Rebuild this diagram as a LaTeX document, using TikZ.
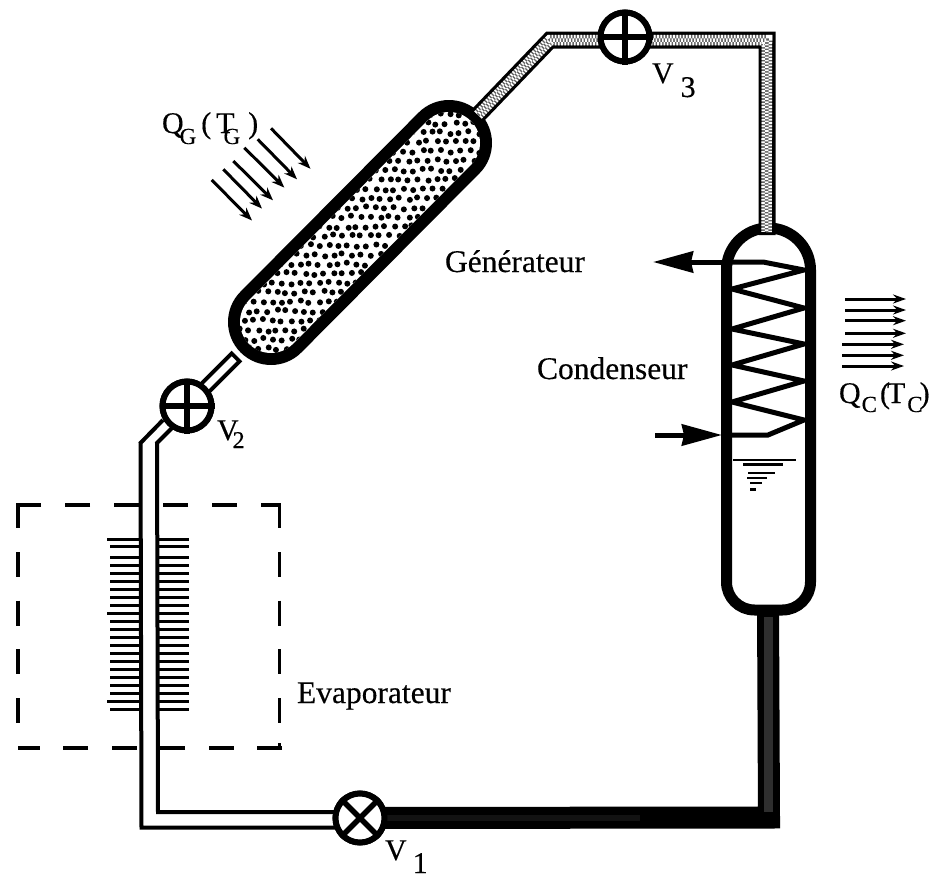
\documentclass[tikz,border=0pt]{standalone}
\usepackage{fontspec}
\setmainfont{Liberation Serif}[FakeBold=0.35]
\usetikzlibrary{arrows.meta,calc}
\tikzset{
  lab/.style={inner sep=0pt,outer sep=0pt,anchor=base west,font=\fontsize{31.5}{36}\selectfont},
  sym/.style={inner sep=0pt,outer sep=0pt,anchor=base west,font=\fontsize{30}{34}\selectfont},
  valve/.style={circle,draw=black,fill=white,line width=6pt,minimum size=49pt,inner sep=0pt},
  valvebar/.style={line width=5.5pt,line cap=butt},
  pipeblack/.style={line width=17pt,line join=miter,black},
  pipegray/.style={line width=10.5pt,line join=miter,black!62},
  pipedots/.style={line width=10.5pt,line join=miter,white,dash pattern=on 1.6pt off 1.6pt},
  pipecentre/.style={line width=3.5pt,line join=miter,black!62},
  pipecentredots/.style={line width=3.5pt,line join=miter,white,dash pattern=on 1.6pt off 1.6pt,dash phase=1.6pt},
  heavyblack/.style={line width=22pt,line join=miter,black},
  heavygray/.style={line width=9pt,line join=miter,black!82},
  heavyfaint/.style={line width=6pt,black!93},
  tubeline/.style={line width=4pt,line join=miter},
  fin/.style={line width=3pt},
  dashbox/.style={line width=3.5pt},
  coil/.style={line width=5pt,line join=miter},
  level/.style={line width=2.5pt},
  heatG/.style={line width=3pt,-{Stealth[length=13pt,width=10pt]}},
  heatC/.style={line width=3pt,-{Stealth[length=13pt,width=9pt]}},
  bigarrow/.style={line width=5pt,-{Stealth[length=40pt,width=21pt,inset=2pt]}}
}
\newcommand{\subG}[1]{\raisebox{-11pt}{\fontsize{23}{26}\selectfont #1}}
\begin{document}
\begin{tikzpicture}[x=1pt,y=-1pt]
\useasboundingbox (0,0) rectangle (938,878);
\fill[white] (0,0) rectangle (938,878);

% named points
\coordinate (genA) at (271,322);
\coordinate (genB) at (449,143);
\coordinate (kinkTop) at (550,40);
\coordinate (cornerTR) at (767,40);
\coordinate (condTop) at (767,235);
\coordinate (condBot) at (768,605);
\coordinate (cornerBR) at (769,817.5);
\coordinate (genOut) at (478,115);
\coordinate (genIn) at (237,356);

\node[valve] (v1) at (360,818) {};
\node[valve] (v2) at (187,406) {};
\node[valve] (v3) at (625,37) {};

% dashed evaporator box
\draw[dashbox,dash pattern=on 25pt off 24pt,dash phase=7pt] (279,505) -- (18,505);
\draw[dashbox,dash pattern=on 25pt off 23.7pt] (18,503.3) -- (18,725);
\draw[dashbox,dash pattern=on 25pt off 23.7pt] (279.5,503.3) -- (279.5,725);
\draw[dashbox,dash pattern=on 25pt off 23.5pt] (282,748) -- (18,748);
\draw[dashbox] (279.5,748) -- (279.5,743);

% fins
\foreach \y in {507,530,563,587,610,634,658,682,707,730,755,779,803,827,851,875,899,923,947,971,995,1018}{
  \draw[fin] (110,370+\y/3) -- (141,370+\y/3);
  \draw[fin] (157,370+\y/3) -- (189,370+\y/3);
}
\draw[fin] (107,539) -- (112,539);
\draw[fin] (107,613.3) -- (112,613.3);
\draw[fin] (107,701.7) -- (112,701.7);

% evaporator tube
\draw[tubeline] (163,420) -- (140.5,443) -- (141.5,827.5) -- (v1.center |- 0,827.5);
\draw[tubeline] (172,428) -- (157,443) -- (158,812) -- (v1.center |- 0,812);

% generator capsule
\draw[line width=86pt,line cap=round] (genA) -- (genB);
\draw[line width=62pt,line cap=round,white] (genA) -- (genB);
\begin{scope}
\clip[rounded corners=30pt] (271,365.8) -- (227.2,322) -- (449,99.2) -- (492.8,143) -- cycle;
\pgfmathsetseed{7}
\foreach \i in {0,...,29}{
 \foreach \j in {0,...,29}{
  \pgfmathsetmacro{\dx}{225+\i*9.4+mod(\j,2)*4.7+1.6*rand}
  \pgfmathsetmacro{\dy}{95+\j*9.4+1.6*rand}
  \fill (\dx,\dy) circle (3pt);
 }
}
\end{scope}

% tube V2 - generator
\draw[line width=15pt] (v2.center) -- (genIn);
\draw[line width=7pt,white] (v2.center) -- ($(genIn)!4pt!(v2.center)$);

% lower heavy pipe
\draw[heavyblack] (condBot) -- (cornerBR) -- (v1.center);

% condenser
\draw[line width=11pt,fill=white,rounded corners=42pt] (726.5,400) -- (726.5,228) -- (810.5,228) -- (810.5,400)
  [rounded corners=28pt] -- (810.5,610) -- (726.5,610) -- cycle;

% upper stippled pipe
\draw[pipeblack] (genOut) -- (kinkTop) -- (cornerTR) -- (condTop);
\draw[pipegray] (genOut) -- (kinkTop) -- (cornerTR) -- (766.5,232);
\draw[pipedots] (genOut) -- (kinkTop) -- (cornerTR) -- (766.5,232);
\draw[pipecentre] (genOut) -- (kinkTop) -- (cornerTR) -- (766.5,232);
\draw[pipecentredots] (genOut) -- (kinkTop) -- (cornerTR) -- (766.5,232);
\draw[heavygray] (768,617) -- (768,812);
\draw[heavyfaint] (386,818) -- (640,818);

% coil
\coordinate (coilOut) at (653,262);
\coordinate (coilIn) at (655,435);
\draw[coil] (725,262) -- (763,262) -- (804,270) -- (732,289) -- (804,308) -- (732,329) -- (804,344) -- (732,365) -- (804,381) -- (732,402) -- (804,420) -- (768,435) -- (722,435);
\draw[bigarrow] (728,262) -- (coilOut);
\draw[bigarrow] (coilIn) -- (722,435);

% liquid level
\draw[level] (733,460) -- (796,460);
\draw[level] (743,464.5) -- (783,464.5);
\draw[level] (748,473) -- (775,473);
\draw[level] (747,478) -- (767,478);
\draw[level] (750,483) -- (762,483);
\draw[line width=3pt] (750,489) -- (756,489);

% valves
\node[valve] at (v1) {};
\node[valve] at (v2) {};
\node[valve] at (v3) {};
\draw[valvebar] (v1.45) -- (v1.225);
\draw[valvebar] (v1.135) -- (v1.315);
\draw[valvebar] (v2.north) -- (v2.south);
\draw[valvebar] (v2.west) -- (v2.east);
\draw[valvebar] (v3.north) -- (v3.south);
\draw[valvebar] (v3.west) -- (v3.east);

% heat arrows
\draw[heatG] (211.7,180) -- (252,220.5);
\draw[heatG] (223.3,169.3) -- (262,208.6);
\draw[heatG] (233.3,161) -- (273,200.3);
\draw[heatG] (244.3,147.7) -- (284.3,187.6);
\draw[heatG] (257.7,139.3) -- (297,179.3);
\draw[heatG] (271,128.3) -- (310.5,168.8);
\foreach \y in {299,310,320.7,333.3}{\draw[heatC] (845,\y) -- (906,\y);}
\foreach \y in {344.3,355.3,366}{\draw[heatC] (842,\y) -- (904,\y);}

% labels
\node[lab] (lgen) at (445,272) {Générateur};
\node[lab] (lcon) at (537,379) {Condenseur};
\node[lab] (leva) at (297,703) {Evaporateur};
\node[sym] (lqg) at (162,133) {Q\kern-4pt\subG{G}\kern5pt(\kern5pt T\kern-11pt\subG{G}\kern8pt)};
\node[sym] (lqc) at (839,403) {Q\kern1pt\raisebox{-9pt}{\fontsize{23}{26}\selectfont C}\kern3pt(\kern-3pt T\kern2pt\raisebox{-9pt}{\fontsize{23}{26}\selectfont C}\kern-3pt)};
\node[sym] (lv3) at (652,83) {V\kern7pt\raisebox{-14pt}{3}};
\node[sym] (lv1) at (385,860) {V\kern6pt\raisebox{-13pt}{1}};
\node[sym] (lv2) at (217,440) {V\kern-6pt\raisebox{-8pt}{\fontsize{24}{26}\selectfont 2}};
\end{tikzpicture}
\end{document}
